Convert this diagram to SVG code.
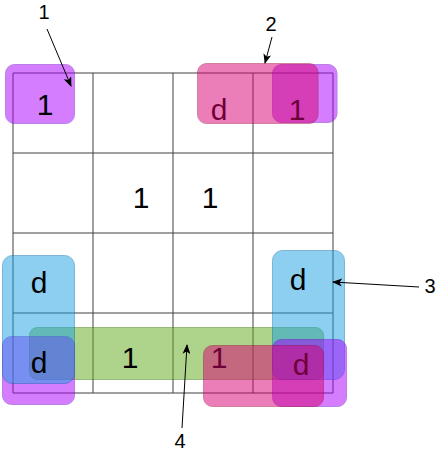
<svg xmlns="http://www.w3.org/2000/svg" width="445" height="454" viewBox="0 0 445 454">
<style>
.grid line{stroke:#404040;stroke-width:1}
.ov{opacity:0.5;stroke-width:1}
.purple{fill:#aa00ff;stroke:#7700cc}
.pink{fill:#d80073;stroke:#a50040}
.blue{fill:#1ba1e2;stroke:#006eaf}
.green{fill:#60a917;stroke:#2d7600}
.t{font-family:"Liberation Sans",Arial,sans-serif;font-size:30px;fill:#000;text-anchor:middle}
.lbl{font-family:"Liberation Sans",Arial,sans-serif;font-size:20px;fill:#000;text-anchor:middle}
.conn line{stroke:#000;stroke-width:1}
</style>
<defs>
<marker id="ah" markerWidth="10" markerHeight="8" refX="9" refY="4" orient="auto" markerUnits="userSpaceOnUse">
<path d="M0,0 L10,4 L0,8 L2.5,4 z" fill="#000"/>
</marker>
</defs>
<rect width="445" height="454" fill="#fff"/>
<g id="grid" class="grid">
<line x1="13" y1="73" x2="333" y2="73"/>
<line x1="13" y1="153" x2="333" y2="153"/>
<line x1="13" y1="233" x2="333" y2="233"/>
<line x1="13" y1="313" x2="333" y2="313"/>
<line x1="13" y1="393" x2="333" y2="393"/>
<line x1="13" y1="73" x2="13" y2="393"/>
<line x1="93" y1="73" x2="93" y2="393"/>
<line x1="173" y1="73" x2="173" y2="393"/>
<line x1="253" y1="73" x2="253" y2="393"/>
<line x1="333" y1="73" x2="333" y2="393"/>
</g>
<g id="group-purple-tl"><rect class="ov purple" x="5.5" y="64.5" width="69" height="59" rx="9"/><text class="t" x="45" y="115">1</text></g>
<g id="group-purple-tr"><rect class="ov purple" x="272.5" y="64.5" width="64.5" height="58" rx="9"/></g>
<g id="cell-texts-top">
<text class="t" x="219" y="120">d</text>
<text class="t" x="297" y="120">1</text>
</g>
<g id="group-pink-top"><rect class="ov pink" x="197.5" y="63.5" width="120.5" height="60" rx="9"/></g>
<g id="group-green"><rect class="ov green" x="29.5" y="327.5" width="294" height="52" rx="8"/></g>
<g id="group-purple-bl"><rect class="ov purple" x="2.5" y="336.5" width="72" height="68" rx="9"/></g>
<g id="group-blue-l"><rect class="ov blue" x="2.5" y="255.5" width="72" height="128" rx="10"/></g>
<g id="group-blue-r"><rect class="ov blue" x="272.5" y="250.5" width="72" height="129" rx="10"/></g>
<g id="group-purple-br"><rect class="ov purple" x="272.5" y="339.5" width="74" height="67" rx="9"/></g>
<g id="cell-texts-bottom">
<text class="t" x="219" y="368">1</text>
<text class="t" x="301" y="375">d</text>
</g>
<g id="group-pink-bottom"><rect class="ov pink" x="203.5" y="345.5" width="120" height="61" rx="9"/></g>
<g id="cell-texts">
<text class="t" x="141" y="208">1</text>
<text class="t" x="210" y="208">1</text>
<text class="t" x="39" y="293">d</text>
<text class="t" x="39" y="373">d</text>
<text class="t" x="130" y="368">1</text>
<text class="t" x="298" y="290">d</text>
</g>
<g id="connectors" class="conn">
<line x1="47" y1="29" x2="71" y2="86" marker-end="url(#ah)"/>
<line x1="272" y1="37" x2="265" y2="63" marker-end="url(#ah)"/>
<line x1="419" y1="287" x2="333" y2="282" marker-end="url(#ah)"/>
<line x1="182" y1="428" x2="187" y2="345" marker-end="url(#ah)"/>
</g>
<g id="labels">
<text class="lbl" x="44" y="19">1</text>
<text class="lbl" x="271" y="31">2</text>
<text class="lbl" x="430" y="293">3</text>
<text class="lbl" x="180" y="448">4</text>
</g>
</svg>
